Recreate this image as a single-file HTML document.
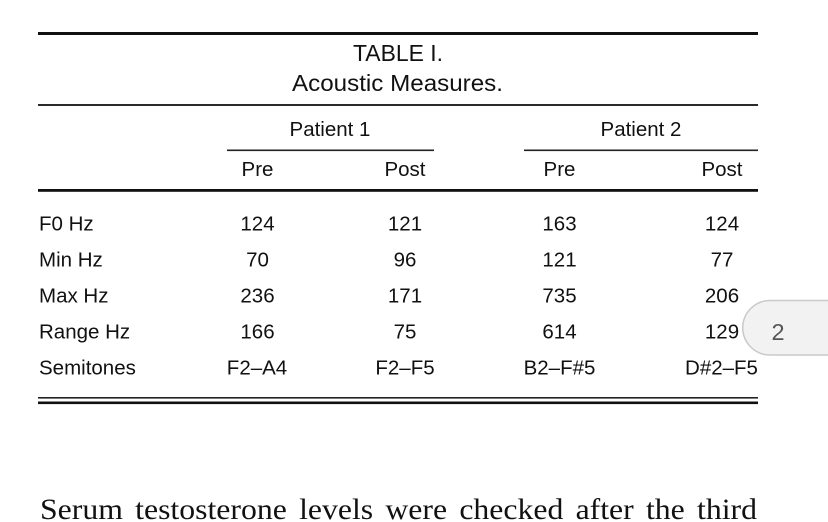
<!DOCTYPE html>
<html>
<head>
<meta charset="utf-8">
<style>
  html, body { margin: 0; padding: 0; background: #fff; }
  body { width: 828px; height: 522px; overflow: hidden; position: relative; }
  svg { display: block; }
  .s { font-family: "Liberation Sans", Arial, sans-serif; fill: #111; }
  .serif { font-family: "Liberation Serif", "Times New Roman", serif; fill: #111; }
</style>
</head>
<body>
<svg width="828" height="522" viewBox="0 0 828 522" xmlns="http://www.w3.org/2000/svg">
  <!-- rules -->
  <rect x="38" y="32" width="720" height="3" fill="#111"/>
  <rect x="38" y="104" width="720" height="2" fill="#2a2a2a"/>
  <rect x="227" y="149.5" width="207" height="1.6" fill="#222"/>
  <rect x="524" y="149.5" width="234" height="1.6" fill="#222"/>
  <rect x="38" y="189" width="720" height="2.8" fill="#111"/>
  <rect x="38" y="397" width="720" height="1.6" fill="#222"/>
  <rect x="38" y="401.5" width="720" height="2.6" fill="#111"/>

  <!-- title -->
  <text class="s" x="398" y="61" font-size="23" text-anchor="middle" textLength="90" lengthAdjust="spacingAndGlyphs">TABLE I.</text>
  <text class="s" x="397.5" y="91" font-size="23.5" text-anchor="middle" textLength="211" lengthAdjust="spacingAndGlyphs">Acoustic Measures.</text>

  <!-- headers -->
  <text class="s" x="330" y="136" font-size="20.5" text-anchor="middle">Patient 1</text>
  <text class="s" x="641" y="136" font-size="20.5" text-anchor="middle">Patient 2</text>
  <text class="s" x="257.5" y="176" font-size="20.5" text-anchor="middle">Pre</text>
  <text class="s" x="405" y="176" font-size="20.5" text-anchor="middle">Post</text>
  <text class="s" x="559.5" y="176" font-size="20.5" text-anchor="middle">Pre</text>
  <text class="s" x="722" y="176" font-size="20.5" text-anchor="middle">Post</text>

  <!-- rows -->
  <g font-size="20.5">
    <text class="s" x="39" y="230.5">F0 Hz</text>
    <text class="s" x="257.5" y="230.5" text-anchor="middle">124</text>
    <text class="s" x="405" y="230.5" text-anchor="middle">121</text>
    <text class="s" x="559.5" y="230.5" text-anchor="middle">163</text>
    <text class="s" x="722" y="230.5" text-anchor="middle">124</text>

    <text class="s" x="39" y="266.5">Min Hz</text>
    <text class="s" x="257.5" y="266.5" text-anchor="middle">70</text>
    <text class="s" x="405" y="266.5" text-anchor="middle">96</text>
    <text class="s" x="559.5" y="266.5" text-anchor="middle">121</text>
    <text class="s" x="722" y="266.5" text-anchor="middle">77</text>

    <text class="s" x="39" y="302.5">Max Hz</text>
    <text class="s" x="257.5" y="302.5" text-anchor="middle">236</text>
    <text class="s" x="405" y="302.5" text-anchor="middle">171</text>
    <text class="s" x="559.5" y="302.5" text-anchor="middle">735</text>
    <text class="s" x="722" y="302.5" text-anchor="middle">206</text>

    <text class="s" x="39" y="338.5">Range Hz</text>
    <text class="s" x="257.5" y="338.5" text-anchor="middle">166</text>
    <text class="s" x="405" y="338.5" text-anchor="middle">75</text>
    <text class="s" x="559.5" y="338.5" text-anchor="middle">614</text>
    <text class="s" x="722" y="338.5" text-anchor="middle">129</text>

    <text class="s" x="39" y="374.5">Semitones</text>
    <text class="s" x="257" y="374.5" text-anchor="middle">F2–A4</text>
    <text class="s" x="405" y="374.5" text-anchor="middle">F2–F5</text>
    <text class="s" x="559.5" y="374.5" text-anchor="middle">B2–F#5</text>
    <text class="s" x="721.5" y="374.5" text-anchor="middle">D#2–F5</text>
  </g>

  <!-- page badge -->
  <path d="M 770 300.5 L 830 300.5 L 830 355 L 770 355 A 27.25 27.25 0 0 1 770 300.5 Z" fill="#f2f2f2" stroke="#c9c9c9" stroke-width="1.5"/>
  <text x="778" y="340" font-size="23.5" text-anchor="middle" font-family="Liberation Sans, Arial, sans-serif" fill="#555">2</text>

  <!-- paragraph -->
  <text class="serif" x="40" y="519" font-size="29.5" word-spacing="4" textLength="717" lengthAdjust="spacingAndGlyphs">Serum testosterone levels were checked after the third</text>
</svg>
</body>
</html>
